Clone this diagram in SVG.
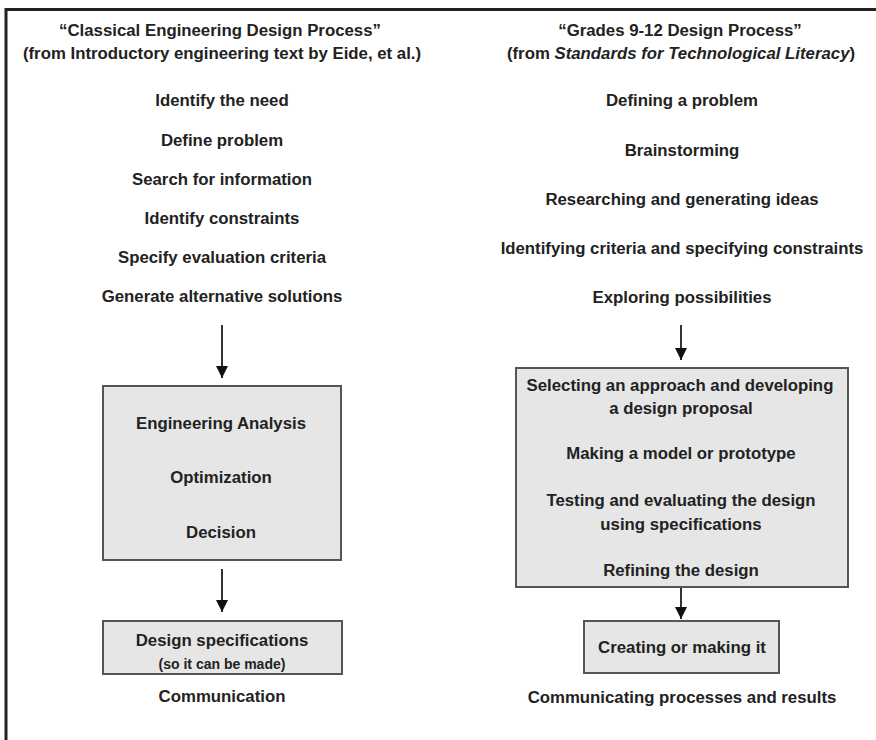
<svg xmlns="http://www.w3.org/2000/svg" width="876" height="740" viewBox="0 0 876 740">
<style>
text{font-family:"Liberation Sans",Arial,sans-serif;font-weight:bold;font-size:16.8px;fill:#222;text-anchor:middle}
.small{font-size:14px}
.box{fill:#e6e6e6;stroke:#555;stroke-width:2}
.conn{stroke:#333;stroke-width:2;fill:none}
.frame{stroke:#222;stroke-width:3;fill:none}
</style>
<defs>
<marker id="arr" markerWidth="12" markerHeight="12" refX="10" refY="5" orient="auto" markerUnits="userSpaceOnUse" viewBox="0 0 10 10">
<path d="M0,0 L10,5 L0,10 Z" fill="#111"/>
</marker>
</defs>
<path class="frame" d="M6,740 V9.5 H876"/>
<g id="left-header">
<text x="220" y="36">“Classical Engineering Design Process”</text>
<text x="222" y="59">(from Introductory engineering text by Eide, et al.)</text>
</g>
<g id="left-steps">
<text x="222" y="106">Identify the need</text>
<text x="222" y="146">Define problem</text>
<text x="222" y="185">Search for information</text>
<text x="222" y="224">Identify constraints</text>
<text x="222" y="263">Specify evaluation criteria</text>
<text x="222" y="302">Generate alternative solutions</text>
</g>
<g id="left-analysis-box">
<rect class="box" x="103" y="386" width="238" height="174"/>
<text x="221" y="429">Engineering Analysis</text>
<text x="221" y="483">Optimization</text>
<text x="221" y="538">Decision</text>
</g>
<g id="left-spec-box">
<rect class="box" x="103" y="621" width="239" height="53"/>
<text x="222" y="646">Design specifications</text>
<text class="small" x="222" y="669">(so it can be made)</text>
</g>
<g id="left-communication">
<text x="222" y="702">Communication</text>
</g>
<g id="right-header">
<text x="680" y="36">“Grades 9-12 Design Process”</text>
<text x="681" y="59">(from <tspan font-style="italic">Standards for Technological Literacy</tspan>)</text>
</g>
<g id="right-steps">
<text x="682" y="106">Defining a problem</text>
<text x="682" y="156">Brainstorming</text>
<text x="682" y="205">Researching and generating ideas</text>
<text x="682" y="254">Identifying criteria and specifying constraints</text>
<text x="682" y="303">Exploring possibilities</text>
</g>
<g id="right-design-box">
<rect class="box" x="516" y="368" width="332" height="219"/>
<text x="680" y="391">Selecting an approach and developing</text>
<text x="681" y="414">a design proposal</text>
<text x="681" y="459">Making a model or prototype</text>
<text x="681" y="506">Testing and evaluating the design</text>
<text x="681" y="530">using specifications</text>
<text x="681" y="576">Refining the design</text>
</g>
<g id="right-create-box">
<rect class="box" x="584" y="621" width="195" height="52"/>
<text x="682" y="653">Creating or making it</text>
</g>
<g id="right-communicating">
<text x="682" y="703">Communicating processes and results</text>
</g>
<g id="connectors">
<line class="conn" x1="222" y1="325" x2="222" y2="378" marker-end="url(#arr)"/>
<line class="conn" x1="222" y1="569" x2="222" y2="612" marker-end="url(#arr)"/>
<line class="conn" x1="681" y1="325" x2="681" y2="360" marker-end="url(#arr)"/>
<line class="conn" x1="681" y1="588" x2="681" y2="619" marker-end="url(#arr)"/>
</g>
</svg>
